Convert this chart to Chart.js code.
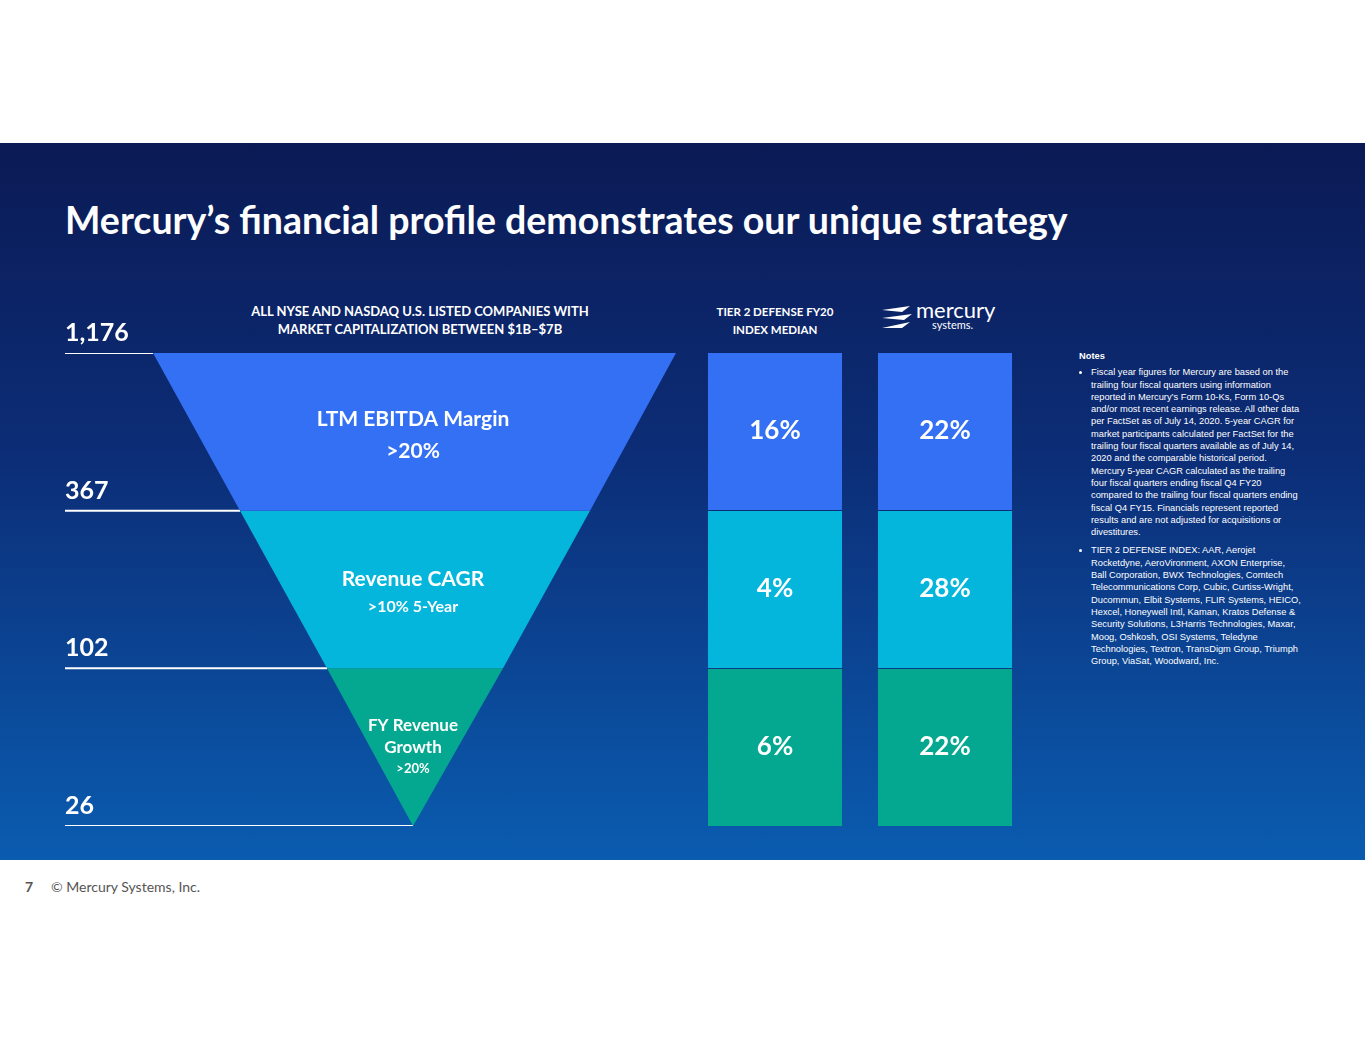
<!DOCTYPE html>
<html><head><meta charset="utf-8">
<script src="https://cdn.jsdelivr.net/npm/chart.js@4"></script>
<style>
body{margin:0;width:1365px;height:1055px;background:#fff;font-family:Lato,"Open Sans",sans-serif;position:relative;overflow:hidden}
#slide{position:absolute;left:0;top:143px;width:1365px;height:717px;background:linear-gradient(#0b1a55 0%,#0c2e78 45%,#0a5cb0 100%)}
.t{position:absolute;color:#fff;font-weight:bold}
#funnelBox{position:absolute;left:0;top:313px;width:700px;height:523px}
#barBox{position:absolute;left:690px;top:342px;width:340px;height:494px}
#notes{position:absolute;left:1079px;top:350px;width:222px;color:#fff;font-size:9.3px;line-height:12.3px;font-family:"Liberation Sans Narrow","Liberation Sans",sans-serif}
#notes ul{margin:4px 0 0 0;padding-left:12px}
#notes li{margin-bottom:6px}
</style></head><body>
<div id="slide"></div>
<div class="t" style="left:65px;top:197px;font-size:37.5px">Mercury’s financial profile demonstrates our unique strategy</div>
<div class="t" style="left:200px;top:302px;width:440px;text-align:center;font-size:13px;line-height:18px">ALL NYSE AND NASDAQ U.S. LISTED COMPANIES WITH<br>MARKET CAPITALIZATION BETWEEN $1B–$7B</div>
<div class="t" style="left:700px;top:303px;width:150px;text-align:center;font-size:11.5px;line-height:18px">TIER 2 DEFENSE FY20<br>INDEX MEDIAN</div>
<div style="position:absolute;left:880px;top:302px;color:#fff">
 <svg width="34" height="26" style="position:absolute;left:0;top:2px"><path d="M2 6 L30 2 L22 8 Z M2 14 L32 10 L24 16 Z M2 24 L30 18 L22 24 Z" fill="#fff"/></svg>
 <div style="position:absolute;left:36px;top:-6px;font-size:22px">mercury</div>
 <div style="position:absolute;left:52px;top:16px;font-size:11px">systems.</div>
</div>
<div id="funnelBox"><canvas id="funnel"></canvas></div>
<div id="barBox"><canvas id="bars"></canvas></div>
<div id="notes"><b>Notes</b><ul>
<li>Fiscal year figures for Mercury are based on the trailing four fiscal quarters using information reported in Mercury’s Form 10-Ks, Form 10-Qs and/or most recent earnings release. All other data per FactSet as of July 14, 2020. 5-year CAGR for market participants calculated per FactSet for the trailing four fiscal quarters available as of July 14, 2020 and the comparable historical period. Mercury 5-year CAGR calculated as the trailing four fiscal quarters ending fiscal Q4 FY20 compared to the trailing four fiscal quarters ending fiscal Q4 FY15. Financials represent reported results and are not adjusted for acquisitions or divestitures.</li>
<li>TIER 2 DEFENSE INDEX: AAR, Aerojet Rocketdyne, AeroVironment, AXON Enterprise, Ball Corporation, BWX Technologies, Comtech Telecommunications Corp, Cubic, Curtiss-Wright, Ducommun, Elbit Systems, FLIR Systems, HEICO, Hexcel, Honeywell Intl, Kaman, Kratos Defense &amp; Security Solutions, L3Harris Technologies, Maxar, Moog, Oshkosh, OSI Systems, Teledyne Technologies, Textron, TransDigm Group, Triumph Group, ViaSat, Woodward, Inc.</li></ul></div>
<div style="position:absolute;left:25px;top:878px;font-size:14px;color:#555"><b>7</b>&nbsp;&nbsp;&nbsp;&nbsp;&nbsp;© Mercury Systems, Inc.</div>
<script>
// funnel levels (companies remaining)
const levelCounts=["1,176","367","102","26"];
// funnel edges at each level, left and right
const funnelLeft=[153,240,327,413];
const funnelRight=[676,590,503,413];
const stageColors=["#3370f4","#05b6dc","#04a890"];

const barCats=["Tier 2 Defense FY20 Index Median","Mercury"];
const ebitda=["16%","22%"];
const cagr=["4%","28%"];
const growth=["6%","22%"];

const lineStart=65;
let ds=[];
for(let i=0;i<3;i++){
  let yTop=3-i, yBot=2-i;
  ds.push({data:[{x:funnelLeft[i],y:yTop},{x:funnelRight[i],y:yTop},{x:funnelRight[i+1],y:yBot},{x:funnelLeft[i+1],y:yBot},{x:funnelLeft[i],y:yTop}],
    showLine:true,fill:'shape',backgroundColor:stageColors[i],borderColor:stageColors[i],borderWidth:0,pointRadius:0});
}
for(let i=0;i<4;i++){
  ds.push({data:[{x:lineStart,y:3-i},{x:funnelLeft[i],y:3-i}],showLine:true,borderColor:'#fff',borderWidth:2,pointRadius:0});
}
const funnelText={id:'ft',afterDraw(c){
  const g=c.ctx,xs=c.scales.x,ys=c.scales.y;
  g.save();g.fillStyle='#fff';g.textAlign='left';g.font='bold 25px Lato';
  levelCounts.forEach((t,i)=>g.fillText(t,xs.getPixelForValue(lineStart),ys.getPixelForValue(3-i)-12));
  g.textAlign='center';
  const cx=xs.getPixelForValue(413);
  g.font='bold 21px Lato';g.fillText("LTM EBITDA Margin",cx,ys.getPixelForValue(2.5)-6);g.fillText(">20%",cx,ys.getPixelForValue(2.5)+26);
  g.fillText("Revenue CAGR",cx,ys.getPixelForValue(1.5)-4);
  g.font='bold 16px Lato';g.fillText(">10% 5-Year",cx,ys.getPixelForValue(1.5)+22);
  g.font='bold 17px Lato';g.fillText("FY Revenue",cx,ys.getPixelForValue(0.5)-16);g.fillText("Growth",cx,ys.getPixelForValue(0.5)+6);
  g.font='bold 13px Lato';g.fillText(">20%",cx,ys.getPixelForValue(0.5)+26);
  g.restore();
}};
new Chart(document.getElementById('funnel'),{type:'scatter',data:{datasets:ds},
 options:{responsive:true,maintainAspectRatio:false,animation:false,layout:{padding:{top:40,bottom:10}},
  plugins:{legend:{display:false},tooltip:{enabled:false}},
  scales:{x:{type:'linear',min:0,max:700,display:false},y:{min:0,max:3,display:false}}},plugins:[funnelText]});

const barText={id:'bt',afterDraw(c){
  const g=c.ctx;g.save();g.fillStyle='#fff';g.font='bold 26px Lato';g.textAlign='center';g.textBaseline='middle';
  c.data.datasets.forEach((d,di)=>{c.getDatasetMeta(di).data.forEach((b,j)=>{g.fillText(d.texts[j],b.x,(b.y+b.base)/2);});});
  g.restore();
}};
new Chart(document.getElementById('bars'),{type:'bar',
 data:{labels:barCats,datasets:[
  {data:[1,1],texts:growth,backgroundColor:stageColors[2]},
  {data:[1,1],texts:cagr,backgroundColor:stageColors[1]},
  {data:[1,1],texts:ebitda,backgroundColor:stageColors[0]}]},
 options:{responsive:true,maintainAspectRatio:false,animation:false,layout:{padding:{top:10,bottom:10}},
  datasets:{bar:{barPercentage:0.79,categoryPercentage:1,borderWidth:{top:1},borderColor:'rgba(10,40,110,0.4)'}},
  plugins:{legend:{display:false},tooltip:{enabled:false}},
  scales:{x:{stacked:true,display:false},y:{stacked:true,min:0,max:3,display:false}}},plugins:[barText]});
</script></body></html>
